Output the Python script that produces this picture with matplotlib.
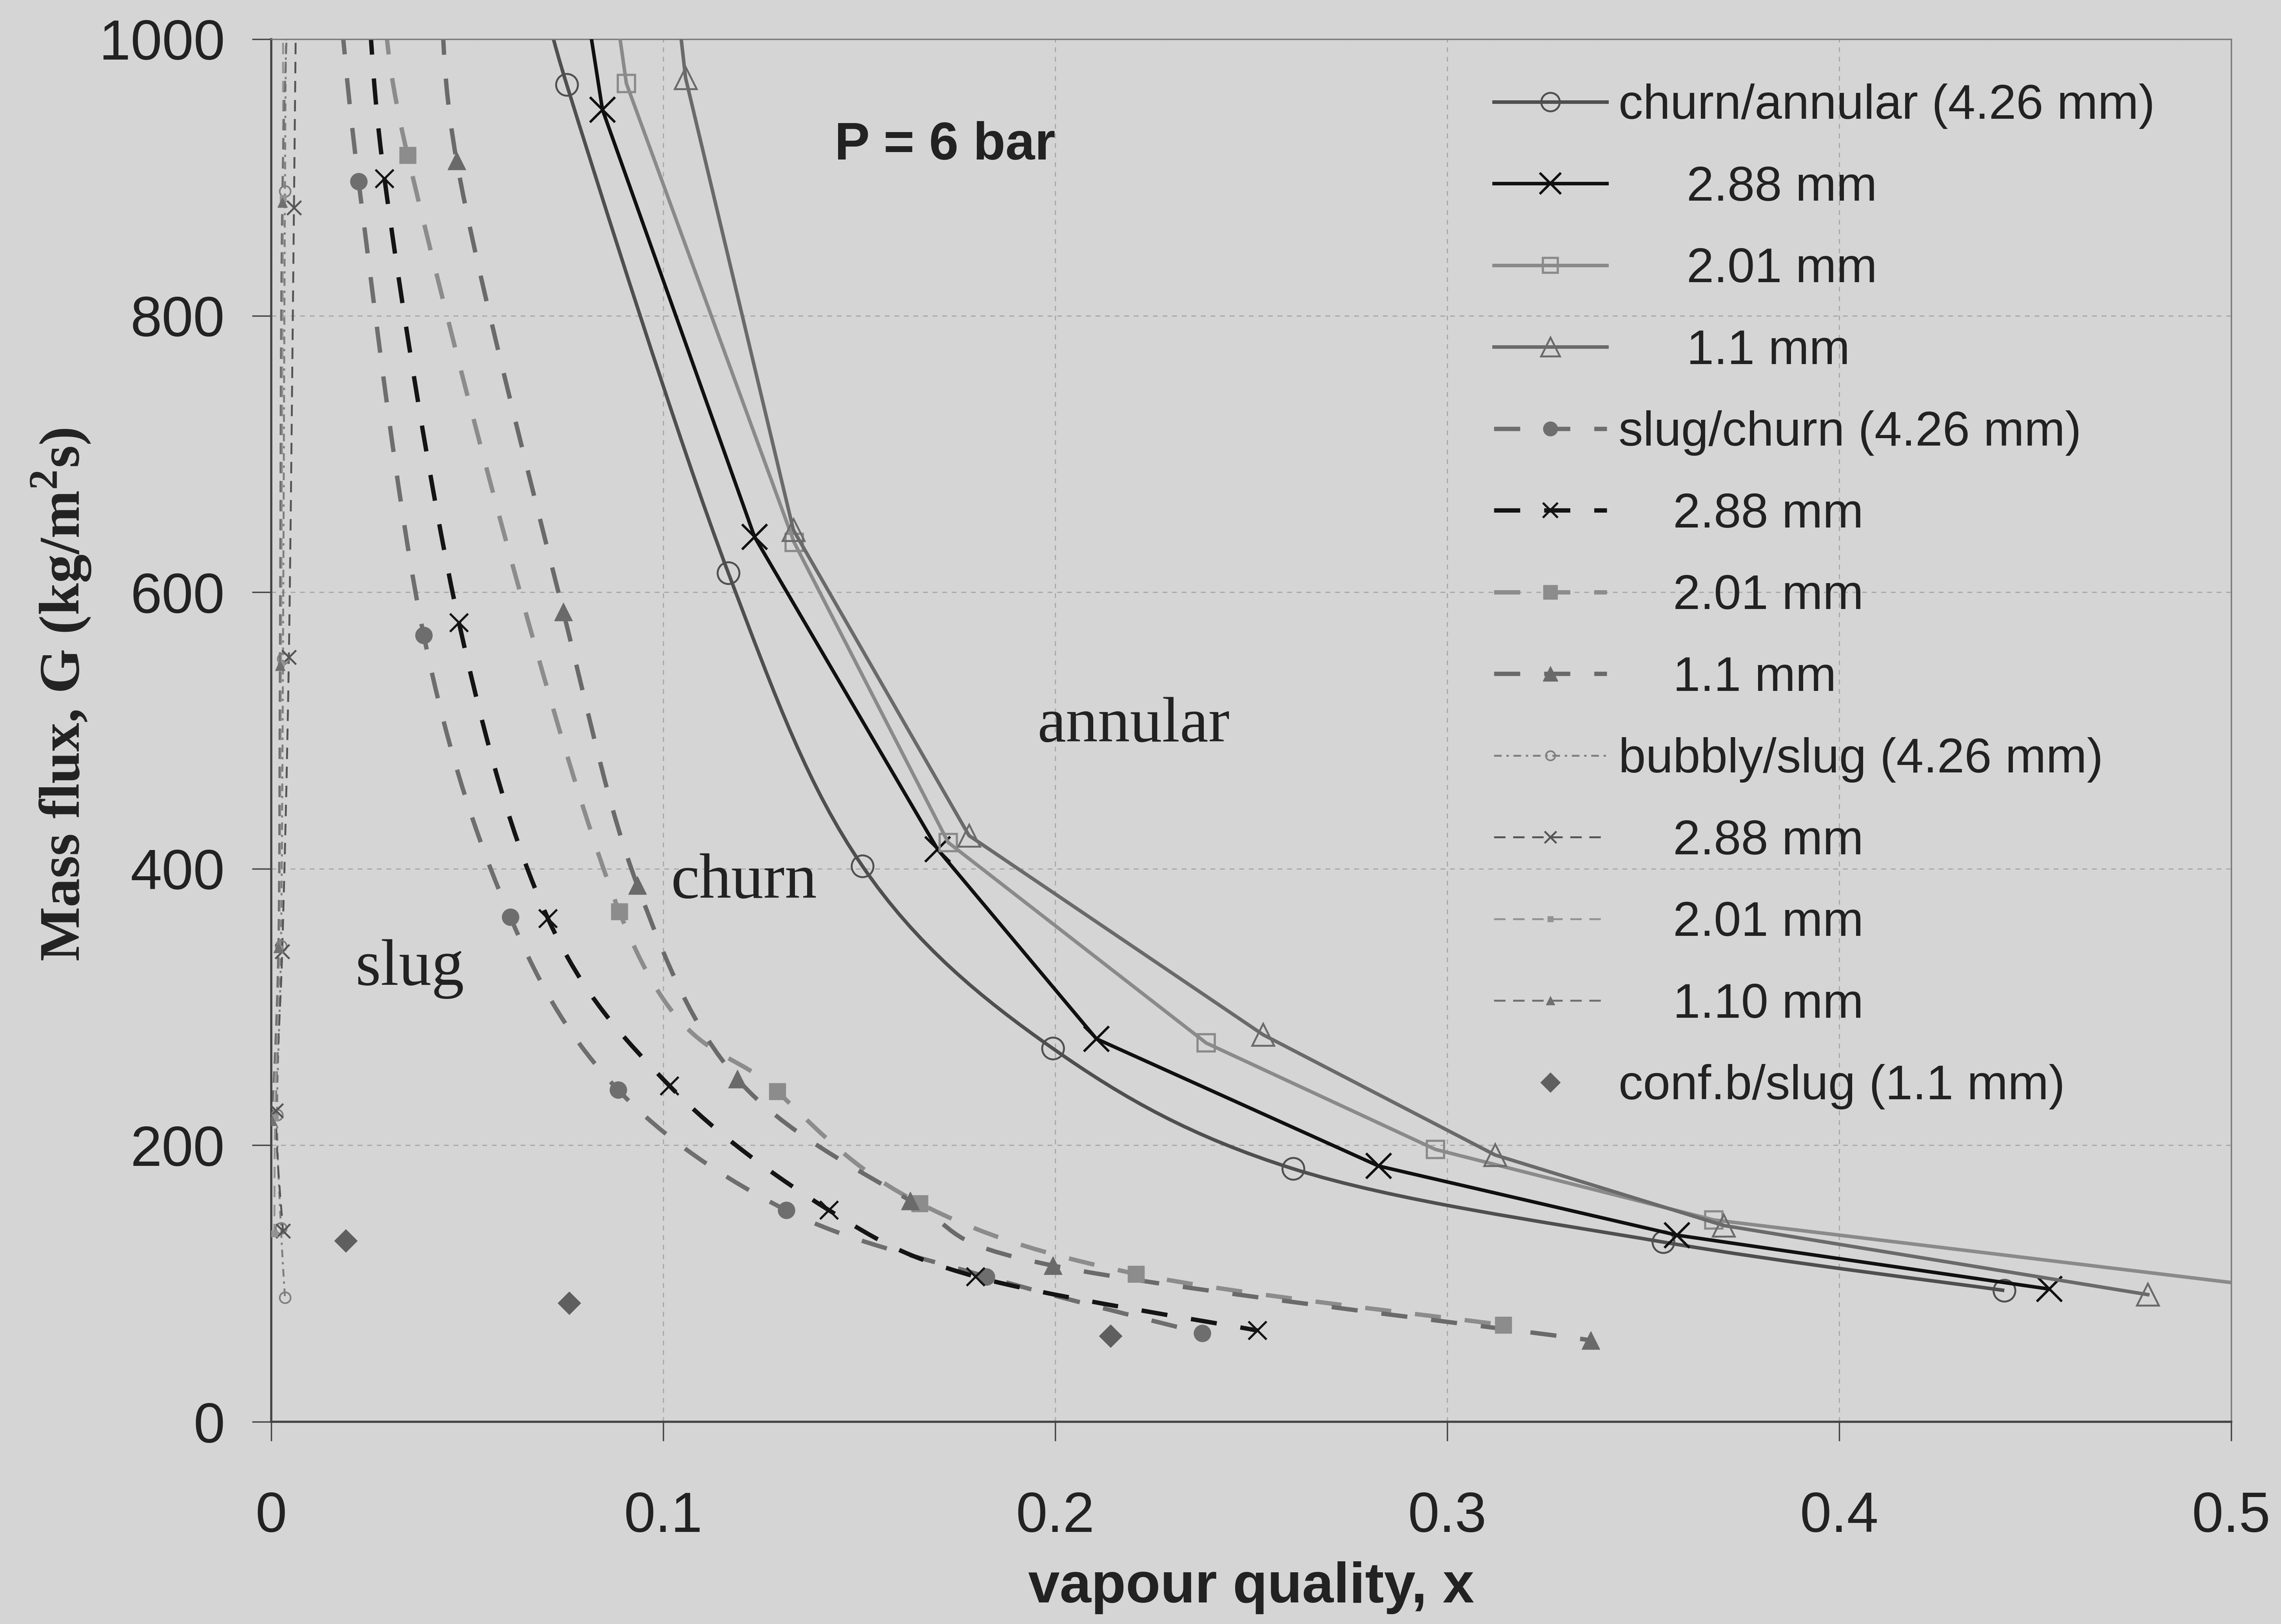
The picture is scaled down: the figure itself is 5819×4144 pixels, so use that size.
import numpy as np
import matplotlib
matplotlib.use("Agg")
import matplotlib.pyplot as plt
from matplotlib.path import Path
from matplotlib.patches import PathPatch
from matplotlib.lines import Line2D

plt.rcParams['font.family'] = ['Liberation Sans', 'DejaVu Sans']
plt.rcParams['mathtext.fontset'] = 'custom'
plt.rcParams['mathtext.rm'] = 'Liberation Serif'
plt.rcParams['mathtext.bf'] = 'Liberation Serif:bold'

# values (first point of each curve lies above the plot top)
# churn / annular transition
ca426_x = [0.0700, 0.0754, 0.1166, 0.1508, 0.1994, 0.2607, 0.3551, 0.4421]
ca426_y = [1040, 967, 614, 402, 270, 183, 130, 95]
ca288_x = [0.0795, 0.0845, 0.1233, 0.1700, 0.2105, 0.2825, 0.3586, 0.4536]
ca288_y = [1040, 949, 640, 414, 277, 185, 135, 96]
ca201_x = [0.0870, 0.0906, 0.1334, 0.1727, 0.2385, 0.2970, 0.3680, 0.5400]
ca201_y = [1040, 968, 636, 419, 274, 197, 146, 87]
ca110_x = [0.1030, 0.1057, 0.1332, 0.1780, 0.2530, 0.3122, 0.3705, 0.4787]
ca110_y = [1040, 972, 645, 424, 280, 193, 142, 92]

# slug / churn transition
sc426_x = [0.0160, 0.0223, 0.0389, 0.0610, 0.0885, 0.1314, 0.1824, 0.2375]
sc426_y = [1080, 897, 569, 365, 240, 153, 105, 64]
sc288_x = [0.0240, 0.0289, 0.0479, 0.0706, 0.1016, 0.1423, 0.1797, 0.2516]
sc288_y = [1080, 899, 578, 364, 243, 153, 105, 66]
sc201_x = [0.0300, 0.0348, 0.0888, 0.1291, 0.1654, 0.2206, 0.3143]
sc201_y = [1080, 916, 369, 239, 158, 107, 70]
sc110_x = [0.0435, 0.0473, 0.0745, 0.0934, 0.1189, 0.1630, 0.1994, 0.3366]
sc110_y = [1080, 912, 586, 388, 248, 160, 113, 59]

# bubbly / slug transition
bs426_x = [0.0040, 0.0035, 0.0030, 0.0025, 0.0015, 0.0025, 0.0035]
bs426_y = [1080, 890, 552, 344, 222, 140, 90]
bs288_x = [0.0065, 0.0058, 0.0045, 0.0028, 0.0012, 0.0030]
bs288_y = [1080, 878, 553, 340, 225, 138]
bs201_x = [0.0030, 0.0030, 0.0025, 0.0020, 0.0010, 0.0008]
bs201_y = [1080, 885, 548, 342, 220, 136]
bs110_x = [0.0050, 0.0028, 0.0022, 0.0018, 0.0002]
bs110_y = [1080, 882, 547, 343, 218]

# confined bubble / slug points (1.1 mm)
cb_x = [0.0190, 0.0760, 0.2141]
cb_y = [131, 86, 62]

labels = ["churn/annular (4.26 mm)", "     2.88 mm", "     2.01 mm", "     1.1 mm",
          "slug/churn (4.26 mm)", "    2.88 mm", "    2.01 mm", "    1.1 mm",
          "bubbly/slug (4.26 mm)", "    2.88 mm", "    2.01 mm", "    1.10 mm",
          "conf.b/slug (1.1 mm)"]

x_ticks = [0, 0.1, 0.2, 0.3, 0.4, 0.5]
y_ticks = [0, 200, 400, 600, 800, 1000]

BG = '#d5d5d5'
DASH = (0, (6, 5.5))


def smooth_path(xs, ys):
    # Excel-like smoothed line through the points (cubic bezier segments)
    p = np.column_stack([xs, ys]).astype(float)
    n = len(p)
    verts = [p[0]]
    codes = [Path.MOVETO]
    for i in range(n - 1):
        p0 = p[i - 1] if i > 0 else p[i]
        p3 = p[i + 2] if i + 2 < n else p[i + 1]
        c1 = p[i] + (p[i + 1] - p0) / 6.0
        c2 = p[i + 1] - (p3 - p[i]) / 6.0
        verts += [c1, c2, p[i + 1]]
        codes += [Path.CURVE4] * 3
    return Path(verts, codes)


# (x, y, smoothed?, style)
series = [
    (ca426_x, ca426_y, True, dict(color='#4f4f4f', lw=6.5, ls='-', marker='o', ms=40, mfc='none', mew=3.5)),
    (ca288_x, ca288_y, False, dict(color='#101010', lw=6.5, ls='-', marker='x', ms=46, mfc='none', mew=4.5)),
    (ca201_x, ca201_y, False, dict(color='#8a8a8a', lw=6.5, ls='-', marker='s', ms=32, mfc='none', mew=4)),
    (ca110_x, ca110_y, False, dict(color='#6a6a6a', lw=6.5, ls='-', marker='^', ms=40, mfc='none', mew=3.5)),
    (sc426_x, sc426_y, True, dict(color='#6e6e6e', lw=8, ls=DASH, marker='o', ms=31, mfc='#6e6e6e', mew=1)),
    (sc288_x, sc288_y, True, dict(color='#141414', lw=8, ls=DASH, marker='x', ms=33, mfc='none', mew=4)),
    (sc201_x, sc201_y, True, dict(color='#8c8c8c', lw=8, ls=DASH, marker='s', ms=30, mfc='#8c8c8c', mew=1)),
    (sc110_x, sc110_y, True, dict(color='#6a6a6a', lw=8, ls=DASH, marker='^', ms=33, mfc='#6a6a6a', mew=1)),
    (bs426_x, bs426_y, True, dict(color='#7f7f7f', lw=3.5, ls=(0, (4, 2.5, 1.2, 2.5)), marker='o', ms=20, mfc='none', mew=3)),
    (bs288_x, bs288_y, True, dict(color='#555555', lw=3.5, ls=(0, (6, 4)), marker='x', ms=26, mfc='none', mew=3.5)),
    (bs201_x, bs201_y, True, dict(color='#939393', lw=3.5, ls=(0, (6, 4)), marker='s', ms=12, mfc='#939393', mew=1)),
    (bs110_x, bs110_y, True, dict(color='#707070', lw=3.5, ls=(0, (6, 4)), marker='^', ms=18, mfc='#707070', mew=1)),
]

fig = plt.figure(figsize=(58.19, 41.44), dpi=100, facecolor=BG)
ax = fig.add_axes([0.1189, 0.1245, 0.8593, 0.8514], facecolor=BG)

handles = []
for xs, ys, smooth, st in series:
    if smooth:
        ax.add_patch(PathPatch(smooth_path(xs, ys), fill=False, edgecolor=st['color'],
                               lw=st['lw'], linestyle=st['ls'], capstyle='butt', zorder=2))
        ax.plot(xs, ys, ls='none', marker=st['marker'], ms=st['ms'], mfc=st['mfc'],
                mec=st['color'], mew=st['mew'], zorder=3)
    else:
        ax.plot(xs, ys, color=st['color'], lw=st['lw'], ls=st['ls'], marker=st['marker'],
                ms=st['ms'], mfc=st['mfc'], mec=st['color'], mew=st['mew'], zorder=3)
    handles.append(Line2D([], [], color=st['color'], lw=st['lw'], ls=st['ls'],
                          marker=st['marker'], ms=st['ms'], mfc=st['mfc'],
                          mec=st['color'], mew=st['mew'], dash_capstyle='butt'))

ax.plot(cb_x, cb_y, ls='none', marker='D', ms=30, color='#5f5f5f', zorder=3)
handles.append(Line2D([], [], ls='none', marker='D', ms=30, color='#5f5f5f'))

ax.set_xlim(0, 0.5)
ax.set_ylim(0, 1000)
ax.set_xticks(x_ticks)
ax.set_yticks(y_ticks)
ax.set_xticklabels([f"{v:g}" for v in x_ticks])
ax.set_yticklabels([f"{v:g}" for v in y_ticks])
ax.grid(True, ls=(0, (4, 4)), color='#a9a9a9', lw=2.2, zorder=0)
ax.set_axisbelow(True)

ax.tick_params(axis='both', direction='out', length=35, width=2.5, color='#444444',
               labelsize=104, labelcolor='#222222')
ax.tick_params(axis='x', pad=92)
ax.tick_params(axis='y', pad=50)
for side in ['left', 'bottom']:
    ax.spines[side].set_color('#444444')
    ax.spines[side].set_linewidth(4)
for side in ['top', 'right']:
    ax.spines[side].set_color('#7a7a7a')
    ax.spines[side].set_linewidth(2.5)

ax.set_xlabel("vapour quality, x", fontsize=104, fontweight='bold', color='#222222')
ax.xaxis.set_label_coords(0.5, -0.12)
ax.xaxis.label.set_va('center')
ax.set_ylabel(r"Mass flux, G (kg/m$^{\mathbf{2}}$s)", fontsize=106, fontweight='bold',
              family='Liberation Serif', color='#222222')
ax.yaxis.set_label_coords(-0.107, 0.526)
ax.yaxis.label.set_va('center')

ax.text(0.1437, 913, "P = 6 bar", fontsize=97, fontweight='bold', color='#222222',
        ha='left', va='baseline')
ax.text(0.1954, 492, "annular", fontsize=118, family='Liberation Serif', color='#222222',
        ha='left', va='baseline')
ax.text(0.102, 379, "churn", fontsize=118, family='Liberation Serif', color='#222222',
        ha='left', va='baseline')
ax.text(0.0214, 316, "slug", fontsize=120, family='Liberation Serif', color='#222222',
        ha='left', va='baseline')

leg = ax.legend(handles, labels, loc='upper left', bbox_to_anchor=(0.655, 0.9485),
                bbox_transform=fig.transFigure, frameon=False, fontsize=90,
                handlelength=2.3, handletextpad=0.24, labelspacing=0.74,
                borderpad=0, borderaxespad=0, numpoints=1, markerscale=0.85)
for t in leg.get_texts():
    t.set_color('#222222')

fig.savefig("out.png", dpi=100, facecolor=BG)
